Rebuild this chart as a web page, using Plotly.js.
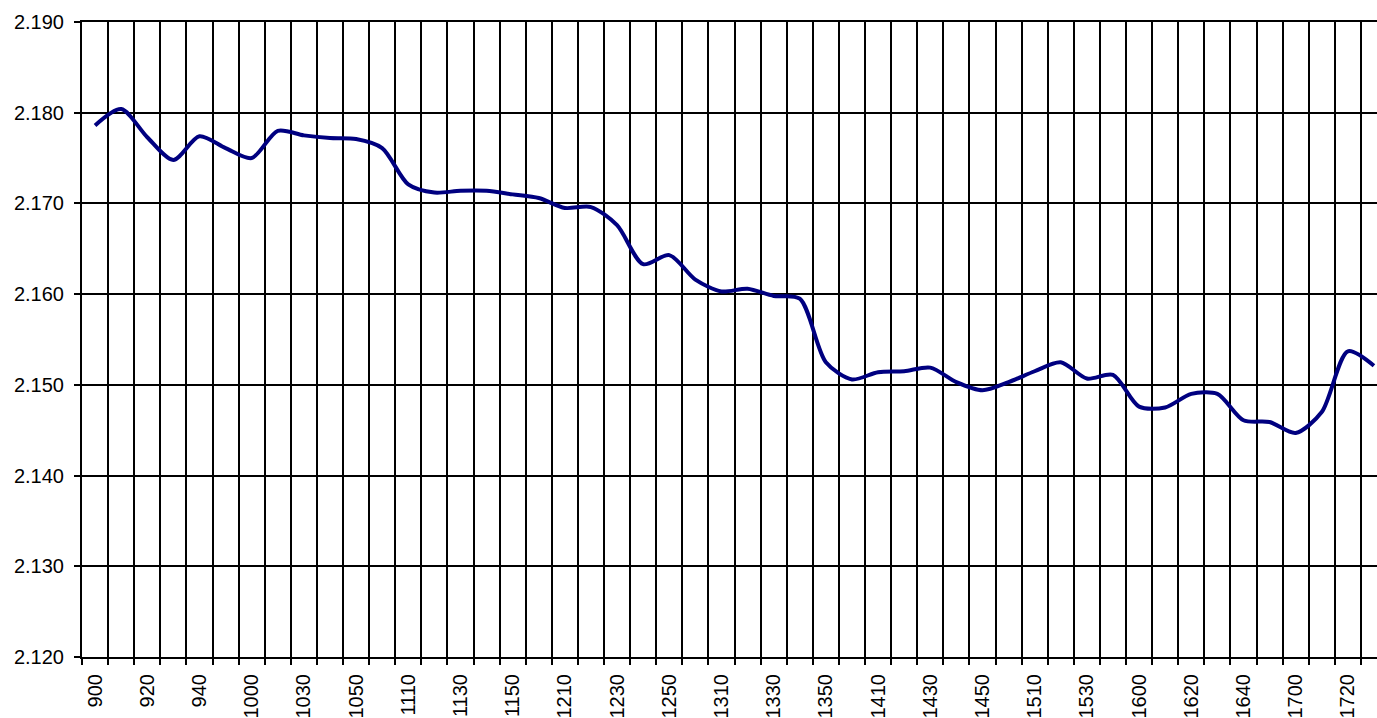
<!DOCTYPE html>
<html>
<head>
<meta charset="utf-8">
<script src="https://cdn.plot.ly/plotly-3.0.1.min.js"></script>
<style>
html,body{margin:0;padding:0;background:#fff;overflow:hidden;}
#chart{width:1400px;height:718px;}
</style>
</head>
<body>
<div id="chart"></div>
<script>
const categories = ['900','910','920','930','940','950','1000','1020','1030','1040',
  '1050','1100','1110','1120','1130','1140','1150','1200','1210','1220',
  '1230','1240','1250','1300','1310','1320','1330','1340','1350','1400',
  '1410','1420','1430','1440','1450','1500','1510','1520','1530','1540',
  '1600','1610','1620','1630','1640','1650','1700','1710','1720','1730'];

const values = [2.1786,2.1804,2.1773,2.1748,2.1774,2.1761,2.1750,2.1780,2.1775,2.1772,
  2.1771,2.1761,2.1721,2.1712,2.1714,2.1714,2.1710,2.1706,2.1695,2.1696,
  2.1676,2.1633,2.1643,2.1616,2.1603,2.1606,2.1598,2.1595,2.1525,2.1506,
  2.1514,2.1515,2.1519,2.1503,2.1494,2.1503,2.1515,2.1525,2.1507,2.1511,
  2.1476,2.1475,2.1490,2.1490,2.1461,2.1459,2.1447,2.1470,2.1537,2.1521];

const tickLabels = categories.map((c, i) => (i % 2 === 0 ? c : ''));

const trace = {
  x: categories,
  y: values,
  type: 'scatter',
  mode: 'lines',
  line: {color: '#000080', width: 4, shape: 'spline', smoothing: 0.8},
  hoverinfo: 'skip'
};

const layout = {
  width: 1400,
  height: 718,
  margin: {l: 82, r: 13, t: 22, b: 61},
  paper_bgcolor: '#ffffff',
  plot_bgcolor: '#ffffff',
  showlegend: false,
  font: {family: 'Liberation Sans, Arial, sans-serif', color: '#000', size: 20},
  xaxis: {
    type: 'category',
    tickmode: 'array',
    tickvals: categories,
    ticktext: tickLabels,
    tickson: 'boundaries',
    ticks: 'outside', ticklen: 6, tickwidth: 2, tickcolor: '#000',
    showgrid: true, gridcolor: '#000', gridwidth: 2,
    showline: true, linecolor: '#000', linewidth: 2, mirror: true,
    zeroline: false,
    tickangle: -90,
    tickfont: {size: 20, color: '#000'},
    ticklabelstandoff: 7,
    range: [-0.5, 49.5]
  },
  yaxis: {
    range: [2.12, 2.19],
    tick0: 2.12, dtick: 0.01,
    tickformat: '.3f',
    ticks: 'outside', ticklen: 6, tickwidth: 2, tickcolor: '#000',
    showgrid: true, gridcolor: '#000', gridwidth: 2,
    showline: true, linecolor: '#000', linewidth: 2,
    zeroline: false,
    tickfont: {size: 20, color: '#000'},
    ticklabelstandoff: 6
  }
};

Plotly.newPlot('chart', [trace], layout, {staticPlot: true});
</script>
</body>
</html>
